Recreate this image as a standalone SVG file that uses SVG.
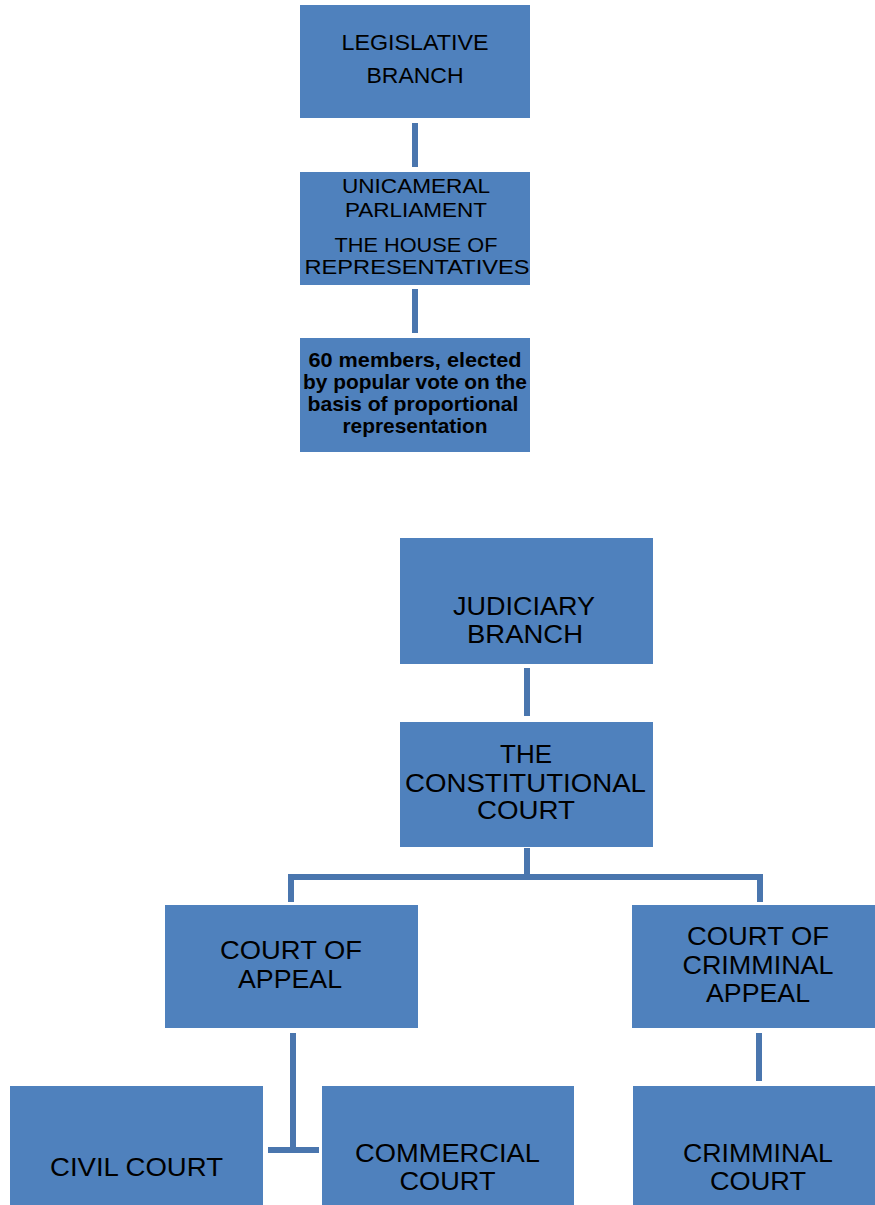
<svg xmlns="http://www.w3.org/2000/svg" width="875" height="1205" viewBox="0 0 875 1205">
<style>
.box{fill:#4f81bd;}
.t{font-family:"Liberation Sans",Arial,sans-serif;fill:#000;text-anchor:middle;}
.s20{font-size:22px;}
.s21{font-size:21px;}
.s26{font-size:26px;}
.s25{font-size:25px;}
.b{font-size:21px;font-weight:bold;}
.c{stroke:#4a76ae;stroke-width:6;fill:none;}
</style>
<rect width="875" height="1205" fill="#fff"/>
<g id="connectors">
<line class="c" x1="415" y1="123" x2="415" y2="167"/>
<line class="c" x1="415" y1="289" x2="415" y2="333"/>
<line class="c" x1="527" y1="668" x2="527" y2="716"/>
<line class="c" x1="527" y1="848" x2="527" y2="877"/>
<polyline class="c" points="291,902 291,877 760,877 760,902"/>
<line class="c" x1="293" y1="1033" x2="293" y2="1152"/>
<line class="c" x1="268" y1="1150" x2="319" y2="1150"/>
<line class="c" x1="759" y1="1033" x2="759" y2="1081"/>
</g>
<g id="legislative">
<rect class="box" x="300" y="5" width="230" height="113"/>
<text class="t s20" x="415" y="50" textLength="147" lengthAdjust="spacingAndGlyphs">LEGISLATIVE</text>
<text class="t s20" x="415" y="83" textLength="97" lengthAdjust="spacingAndGlyphs">BRANCH</text>
</g>
<g id="parliament">
<rect class="box" x="300" y="172" width="230" height="113"/>
<text class="t s21" x="416" y="193" textLength="148" lengthAdjust="spacingAndGlyphs">UNICAMERAL</text>
<text class="t s21" x="416" y="217" textLength="142" lengthAdjust="spacingAndGlyphs">PARLIAMENT</text>
<text class="t s21" x="416" y="252" textLength="163" lengthAdjust="spacingAndGlyphs">THE HOUSE OF</text>
<text class="t s21" x="417" y="274" textLength="225" lengthAdjust="spacingAndGlyphs">REPRESENTATIVES</text>
</g>
<g id="members">
<rect class="box" x="300" y="338" width="230" height="114"/>
<text class="t b" x="415" y="367" textLength="213" lengthAdjust="spacingAndGlyphs">60 members, elected</text>
<text class="t b" x="415" y="389" textLength="224" lengthAdjust="spacingAndGlyphs">by popular vote on the</text>
<text class="t b" x="413" y="411" textLength="211" lengthAdjust="spacingAndGlyphs">basis of proportional</text>
<text class="t b" x="415" y="433" textLength="145" lengthAdjust="spacingAndGlyphs">representation</text>
</g>
<g id="judiciary">
<rect class="box" x="400" y="538" width="253" height="126"/>
<text class="t s26" x="524" y="615" textLength="142" lengthAdjust="spacingAndGlyphs">JUDICIARY</text>
<text class="t s26" x="525" y="643" textLength="116" lengthAdjust="spacingAndGlyphs">BRANCH</text>
</g>
<g id="constitutional">
<rect class="box" x="400" y="722" width="253" height="125"/>
<text class="t s25" x="526" y="763" textLength="52" lengthAdjust="spacingAndGlyphs">THE</text>
<text class="t s25" x="525.5" y="792" textLength="241" lengthAdjust="spacingAndGlyphs">CONSTITUTIONAL</text>
<text class="t s25" x="526" y="819" textLength="98" lengthAdjust="spacingAndGlyphs">COURT</text>
</g>
<g id="appeal">
<rect class="box" x="165" y="905" width="253" height="123"/>
<text class="t s26" x="291" y="959" textLength="142" lengthAdjust="spacingAndGlyphs">COURT OF</text>
<text class="t s26" x="290" y="988" textLength="104" lengthAdjust="spacingAndGlyphs">APPEAL</text>
</g>
<g id="criminal-appeal">
<rect class="box" x="632" y="905" width="243" height="123"/>
<text class="t s26" x="758" y="945" textLength="142" lengthAdjust="spacingAndGlyphs">COURT OF</text>
<text class="t s26" x="758" y="974" textLength="151" lengthAdjust="spacingAndGlyphs">CRIMMINAL</text>
<text class="t s26" x="758" y="1002" textLength="104" lengthAdjust="spacingAndGlyphs">APPEAL</text>
</g>
<g id="civil">
<rect class="box" x="10" y="1086" width="253" height="119"/>
<text class="t s26" x="136.5" y="1176" textLength="173" lengthAdjust="spacingAndGlyphs">CIVIL COURT</text>
</g>
<g id="commercial">
<rect class="box" x="322" y="1086" width="252" height="119"/>
<text class="t s26" x="447.5" y="1162" textLength="185" lengthAdjust="spacingAndGlyphs">COMMERCIAL</text>
<text class="t s26" x="447.5" y="1190" textLength="96" lengthAdjust="spacingAndGlyphs">COURT</text>
</g>
<g id="criminal">
<rect class="box" x="633" y="1086" width="242" height="119"/>
<text class="t s26" x="758" y="1162" textLength="150" lengthAdjust="spacingAndGlyphs">CRIMMINAL</text>
<text class="t s26" x="758" y="1190" textLength="96" lengthAdjust="spacingAndGlyphs">COURT</text>
</g>
</svg>
